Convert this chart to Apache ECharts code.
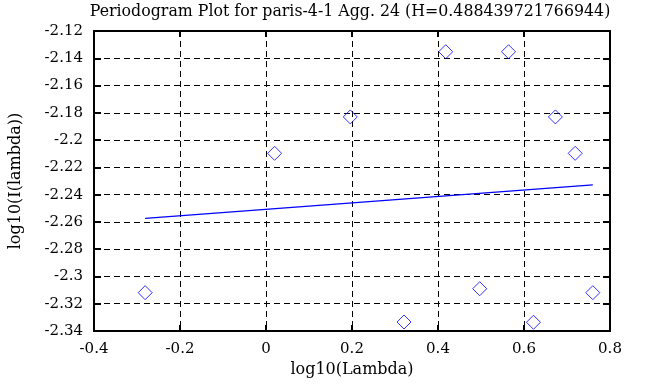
<!DOCTYPE html>
<html>
<head>
<meta charset="utf-8">
<script src="https://cdn.jsdelivr.net/npm/echarts@6/dist/echarts.min.js"></script>
<style>html,body{margin:0;padding:0;background:#fff;}#c{width:657px;height:387px;}</style>
</head>
<body>
<div id="c"></div>
<script>
var titleText = 'Periodogram Plot for paris-4-1 Agg. 24 (H=0.488439721766944)';
var xName = 'log10(Lambda)';
var yName = 'log10(I(lambda))';
var pointsX = [-0.281, 0.020, 0.196, 0.321, 0.418, 0.497, 0.564, 0.622, 0.673, 0.719, 0.760];
var pointsY = [-2.3119, -2.2097, -2.1830, -2.3334, -2.1352, -2.3090, -2.1352, -2.3336, -2.1830, -2.2097, -2.3119];
var fitX = [-0.281, 0.760];
var fitY = [-2.2574, -2.2329];
var xMin = -0.4, xMax = 0.8, xStep = 0.2;
var yMin = -2.34, yMax = -2.12, yStep = 0.02;

var FONT = 'DejaVu Serif';
var scatterData = pointsX.map(function (x, i) { return [x, pointsY[i]]; });
var fitData = fitX.map(function (x, i) { return [x, fitY[i]]; });

var chart = echarts.init(document.getElementById('c'), null, {renderer: 'canvas'});
var dashed = {color: '#000', width: 1, type: [6, 4]};
chart.setOption({
  animation: false,
  backgroundColor: '#fff',
  title: {
    text: titleText, left: 345, top: -1, textAlign: 'center',
    textStyle: {fontFamily: FONT, fontSize: 15.8, fontWeight: 'normal', color: '#000'}
  },
  grid: {left: 92, top: 31, width: 518, height: 300, show: true, borderColor: '#000', borderWidth: 2, backgroundColor: 'transparent'},
  xAxis: [{
    type: 'value', min: xMin, max: xMax, interval: xStep,
    name: xName, nameLocation: 'middle', nameGap: 28,
    nameTextStyle: {fontFamily: FONT, fontSize: 16, color: '#000'},
    axisLine: {show: true, onZero: false, lineStyle: {color: '#000', width: 2}},
    axisTick: {show: true, inside: true, length: 6, lineStyle: {color: '#000', width: 2}},
    axisLabel: {fontFamily: FONT, fontSize: 15, color: '#000', margin: 11},
    splitLine: {show: true, lineStyle: dashed}
  }, {
    type: 'value', position: 'top', min: xMin, max: xMax, interval: xStep,
    axisLine: {show: true, onZero: false, lineStyle: {color: '#000', width: 2}},
    axisTick: {show: true, inside: true, length: 6, lineStyle: {color: '#000', width: 2}},
    axisLabel: {show: false}, splitLine: {show: false}
  }],
  yAxis: [{
    type: 'value', min: yMin, max: yMax, interval: yStep,
    name: yName, nameLocation: 'middle', nameGap: 70,
    nameTextStyle: {fontFamily: FONT, fontSize: 16, color: '#000'},
    axisLine: {show: true, onZero: false, lineStyle: {color: '#000', width: 2}},
    axisTick: {show: true, inside: true, length: 7, lineStyle: {color: '#000', width: 2}},
    axisLabel: {fontFamily: FONT, fontSize: 15, color: '#000', margin: 11},
    splitLine: {show: true, lineStyle: dashed}
  }, {
    type: 'value', position: 'right', min: yMin, max: yMax, interval: yStep,
    axisLine: {show: true, onZero: false, lineStyle: {color: '#000', width: 2}},
    axisTick: {show: true, inside: true, length: 7, lineStyle: {color: '#000', width: 2}},
    axisLabel: {show: false}, splitLine: {show: false}
  }],
  series: [{
    type: 'scatter', data: scatterData, symbol: 'diamond', symbolSize: 14,
    itemStyle: {color: 'transparent', borderColor: '#0000ff', borderWidth: 1}
  }, {
    type: 'line', data: fitData, showSymbol: false, symbol: 'none',
    lineStyle: {color: '#0000ff', width: 1.3}
  }]
});
</script>
</body>
</html>
